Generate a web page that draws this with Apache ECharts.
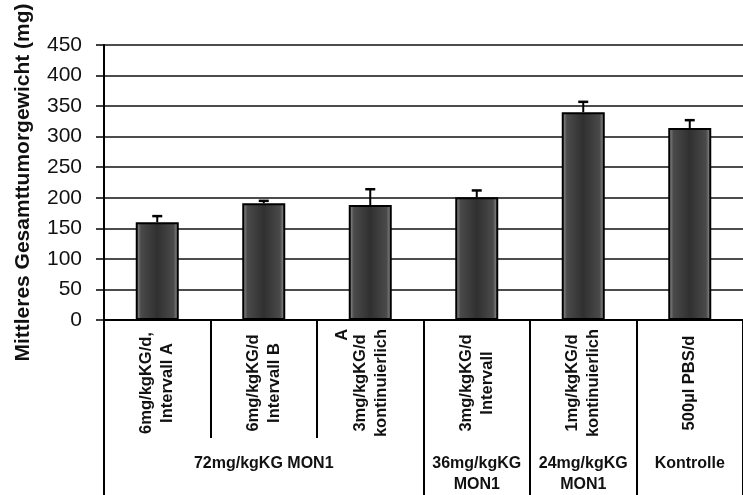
<!DOCTYPE html>
<html>
<head>
<meta charset="utf-8">
<title>Mittleres Gesamttumorgewicht</title>
<script src="https://cdn.jsdelivr.net/npm/echarts@6/dist/echarts.min.js"></script>
<style>
  html, body { margin: 0; padding: 0; background: #fff; }
  #chart { width: 743px; height: 495px; }
</style>
</head>
<body>
<div id="chart"></div>
<script>
// Behandlungsgruppen (untere Achse)
const categories = [
  '6mg/kgKG/d,\nIntervall A',
  '6mg/kgKG/d\nIntervall B',
  '{a|A}\n3mg/kgKG/d\nkontinuierlich',
  '3mg/kgKG/d\nIntervall',
  '1mg/kgKG/d\nkontinuierlich',
  '500µl PBS/d'
]
// Gesamtdosis, nur an der Gruppenmitte beschriftet
const groups = ['', '72mg/kgKG MON1', '', '36mg/kgKG\nMON1', '24mg/kgKG\nMON1', 'Kontrolle']
const groupStarts = [0, 3, 4, 5, 6]

const meanWeight = [160, 191, 188, 201, 340, 314]
const errorUp = [10, 4, 26, 11, 17, 13]

const yTicks = { min: 0, max: 450, interval: 50 }

const font = '"Liberation Sans", Arial, sans-serif'
const chart = echarts.init(document.getElementById('chart'))

const barFill = new echarts.graphic.LinearGradient(0, 0, 1, 0, [
  { offset: 0, color: '#a0a0a0' },
  { offset: 0.12, color: '#4a4a4a' },
  { offset: 0.5, color: '#303030' },
  { offset: 0.88, color: '#4a4a4a' },
  { offset: 1, color: '#a0a0a0' }
])

const catLabel = {
  rotate: 90,
  align: 'center',
  verticalAlign: 'middle',
  fontSize: 16.5,
  fontWeight: 'bold',
  lineHeight: 21,
  color: '#111',
  fontFamily: font,
  rich: {
    a: { fontSize: 16.5, fontWeight: 'bold', lineHeight: 14, align: 'right', color: '#111', fontFamily: font }
  }
}

chart.setOption({
  animation: false,
  textStyle: { fontFamily: font },
  grid: { left: 104, right: -5, top: 45, bottom: 173 },
  xAxis: [{
    type: 'category',
    data: categories.map((c, i) => i === 2 ? { value: c, textStyle: Object.assign({}, catLabel, { padding: [0, 0, 13, 0] }) } : c),
    boundaryGap: true,
    axisLine: { lineStyle: { color: '#000', width: 2 } },
    axisTick: { show: true, length: 118, lineStyle: { color: '#000', width: 2 } },
    axisLabel: Object.assign({ interval: 0, margin: 63 }, catLabel)
  }, {
    type: 'category',
    data: groups,
    position: 'bottom',
    offset: 0,
    boundaryGap: true,
    axisLine: { show: false },
    axisTick: {
      show: true,
      length: 175,
      interval: (idx) => groupStarts.indexOf(idx) !== -1,
      lineStyle: { color: '#000', width: 2 }
    },
    axisLabel: {
      interval: 0,
      margin: 133,
      fontSize: 16,
      fontWeight: 'bold',
      lineHeight: 21,
      color: '#111',
      fontFamily: font
    }
  }],
  yAxis: {
    type: 'value',
    min: yTicks.min,
    max: yTicks.max,
    interval: yTicks.interval,
    name: 'Mittleres Gesamttumorgewicht (mg)',
    nameLocation: 'middle',
    nameGap: 70,
    nameTextStyle: { fontSize: 21, fontWeight: 'bold', color: '#111', fontFamily: font },
    axisLine: { show: true, lineStyle: { color: '#000', width: 2 } },
    axisTick: { show: true, inside: false, length: 8, lineStyle: { color: '#000', width: 1.5 } },
    axisLabel: { fontSize: 21, color: '#111', margin: 22, fontFamily: font },
    splitLine: { show: true, lineStyle: { color: '#111', width: 1.6 } }
  },
  series: [{
    type: 'bar',
    data: meanWeight,
    barWidth: 43,
    itemStyle: { color: barFill, borderColor: '#000', borderWidth: 2 },
    z: 3
  }, {
    // Fehlerbalken (nur nach oben sichtbar)
    type: 'custom',
    data: meanWeight.map((v, i) => [i, v, errorUp[i]]),
    z: 4,
    renderItem: (params, api) => {
      const i = api.value(0)
      const base = api.coord([i, api.value(1)])
      const top = api.coord([i, api.value(1) + api.value(2)])
      return {
        type: 'group',
        children: [{
          type: 'line',
          shape: { x1: base[0], y1: base[1], x2: top[0], y2: top[1] },
          style: { stroke: '#000', lineWidth: 2 }
        }, {
          type: 'line',
          shape: { x1: top[0] - 5, y1: top[1], x2: top[0] + 5, y2: top[1] },
          style: { stroke: '#000', lineWidth: 2.5 }
        }]
      }
    }
  }]
})
</script>
</body>
</html>
